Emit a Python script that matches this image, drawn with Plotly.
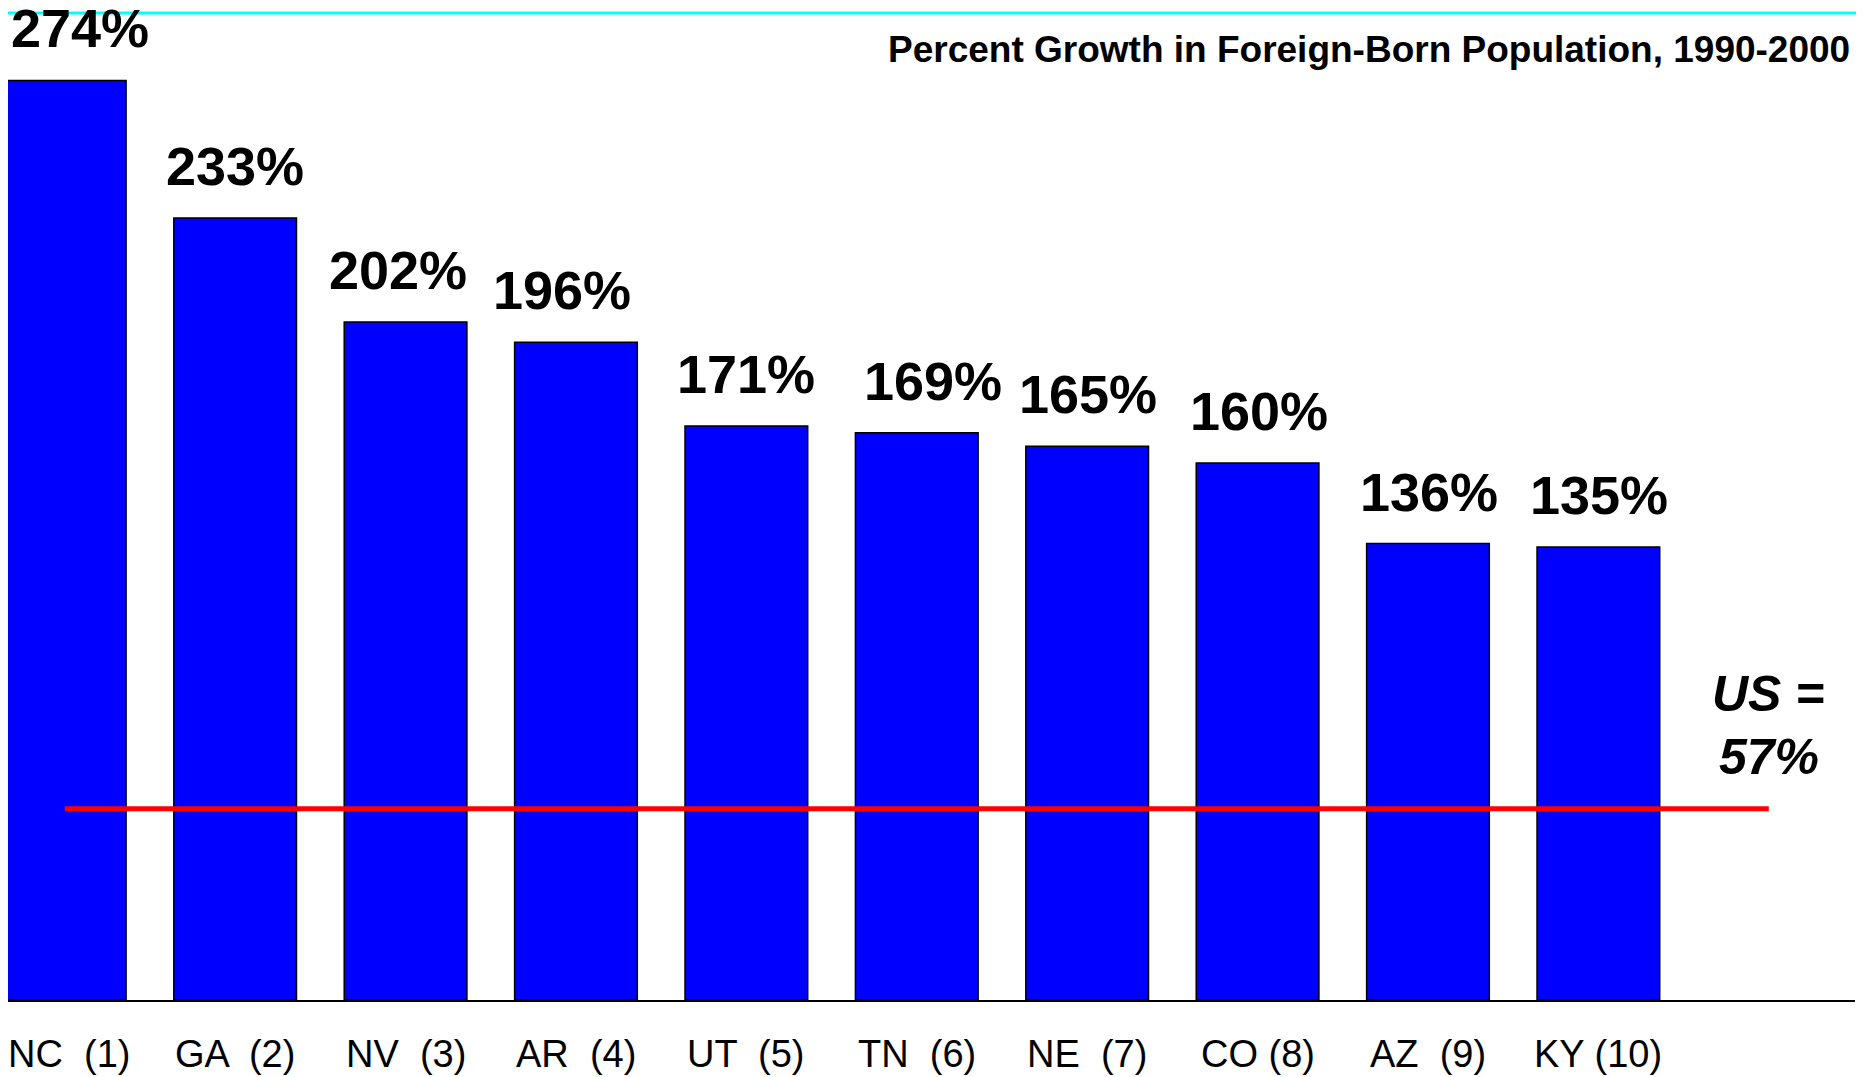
import plotly.graph_objects as go

# ---- data ----
states = ["NC  (1)", "GA  (2)", "NV  (3)", "AR  (4)", "UT  (5)",
          "TN  (6)", "NE  (7)", "CO (8)", "AZ  (9)", "KY (10)"]
growth_pct = [274, 233, 202, 196, 171, 169, 165, 160, 136, 135]
us_growth_pct = 57
chart_title = "Percent Growth in Foreign-Born Population, 1990-2000"

# label nudges (pixels) to mimic the original slide's hand placement
value_label_nudge = [15, 0, -8, -14, 0, 16, 1, 1, 1, 1]
state_label_nudge = [4, 0, 0, 0, 0, 0, 0, 0, 0, 0]

FONT = "Liberation Sans, Arial, sans-serif"

fig = go.Figure()
fig.add_trace(go.Bar(
    x=states, y=growth_pct,
    marker=dict(color="#0000FF", line=dict(color="#000000", width=1.5)),
    hoverinfo="x+y",
))

# value labels above the bars, state labels under the axis
for i, (s, v) in enumerate(zip(states, growth_pct)):
    fig.add_annotation(
        x=s, y=v, text=f"{v}%", showarrow=False,
        xanchor="center", yanchor="middle", yshift=52,
        xshift=value_label_nudge[i],
        font=dict(family=FONT, size=54, color="#000000", weight="bold"),
    )
    fig.add_annotation(
        x=s, y=0, xref="x", yref="paper", text=s, showarrow=False,
        xanchor="center", yanchor="middle", yshift=-54,
        xshift=state_label_nudge[i],
        font=dict(family=FONT, size=38, color="#000000"),
    )

# US average line
fig.add_shape(type="line", xref="x", yref="y",
              x0=0, x1=len(states), y0=us_growth_pct, y1=us_growth_pct,
              line=dict(color="#FF0000", width=5))
fig.add_annotation(
    x=len(states), y=us_growth_pct, xref="x", yref="y",
    text="<b><i>US =</i></b>", showarrow=False,
    xanchor="center", yanchor="middle", yshift=115,
    font=dict(family=FONT, size=50, color="#000000"),
)
fig.add_annotation(
    x=len(states), y=us_growth_pct, xref="x", yref="y",
    text=f"<b><i>{us_growth_pct}%</i></b>", showarrow=False,
    xanchor="center", yanchor="middle", yshift=52,
    font=dict(family=FONT, size=50, color="#000000"),
)

# cyan rule at top
fig.add_shape(type="line", xref="paper", yref="paper",
              x0=-0.01, x1=1.01, y0=1, y1=1,
              line=dict(color="#00FFFF", width=3))

# title
fig.add_annotation(
    x=0.9984, y=0.9635, xref="paper", yref="paper",
    text=f"<b>{chart_title}</b>", showarrow=False,
    xanchor="right", yanchor="middle",
    font=dict(family=FONT, size=37, color="#000000"),
)

fig.update_layout(
    width=1848, height=1069,
    margin=dict(l=0, r=1, t=5, b=77, autoexpand=False),
    paper_bgcolor="#FFFFFF", plot_bgcolor="#FFFFFF",
    bargap=0.28, showlegend=False,
    xaxis=dict(
        range=[-0.333, 10.506], showgrid=False, zeroline=False,
        automargin=False, showticklabels=False,
        showline=True, linecolor="#000000", linewidth=1.5, ticks="",
    ),
    yaxis=dict(
        range=[0, 294.1], visible=False, showgrid=False, zeroline=False,
        automargin=False,
    ),
)

fig.write_html("out.html")
